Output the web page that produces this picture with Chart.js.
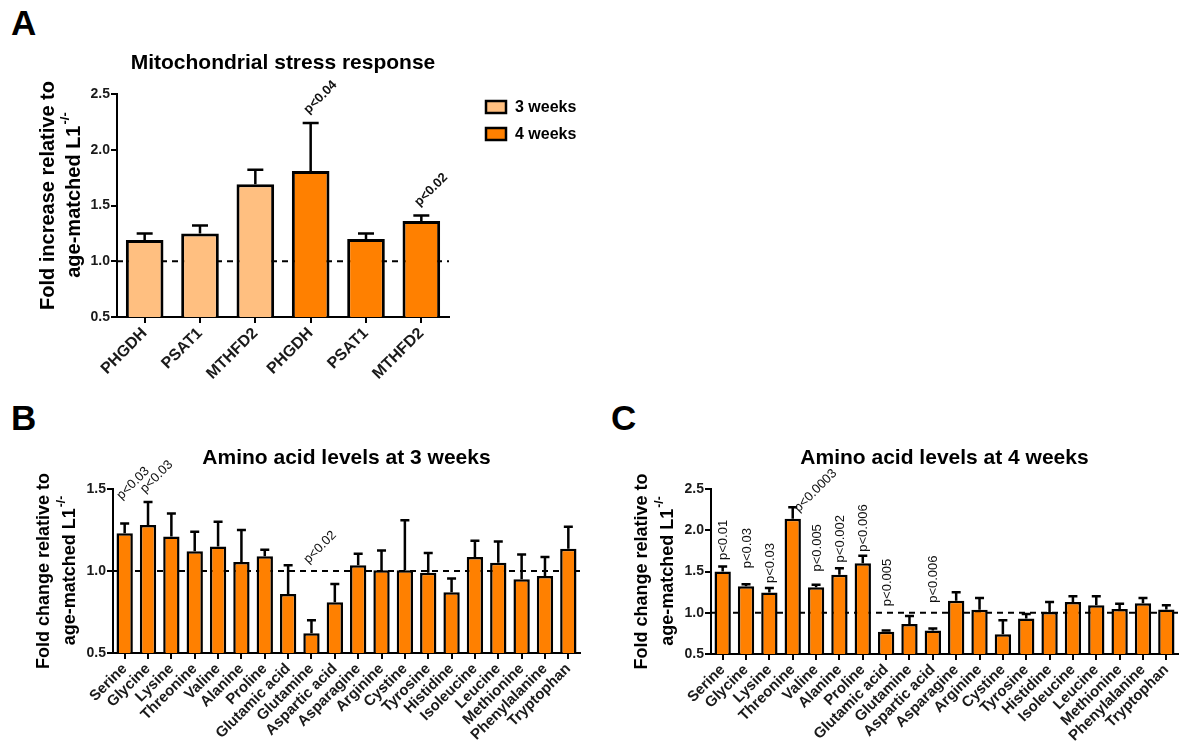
<!DOCTYPE html>
<html>
<head>
<meta charset="utf-8">
<script src="https://cdn.jsdelivr.net/npm/chart.js@4.4.1/dist/chart.umd.min.js"></script>
<style>
    body { margin: 0; background: #fff; width: 1184px; height: 751px; position: relative; overflow: hidden; font-family: "Liberation Sans", Arial, sans-serif; }
    .panel { position: absolute; }
    .letter { position: absolute; font-weight: bold; font-size: 35px; line-height: 1; color: #000; }
</style>
</head>
<body>
<div class="letter" style="left:11px;top:5px">A</div>
<div class="letter" style="left:11px;top:400px">B</div>
<div class="letter" style="left:611px;top:400px">C</div>

<div class="panel" style="left:0;top:0;width:600px;height:390px"><canvas id="chartA"></canvas></div>
<div class="panel" style="left:0;top:390px;width:600px;height:361px"><canvas id="chartB"></canvas></div>
<div class="panel" style="left:600px;top:390px;width:584px;height:361px"><canvas id="chartC"></canvas></div>

<script>
const FONT = "'Liberation Sans', Arial, sans-serif";
Chart.defaults.font.family = FONT;
Chart.defaults.color = '#222';
Chart.defaults.animation = false;

const ORANGE = '#FF8000';
const LIGHT = '#FFBF80';

// panel A - mitochondrial stress response
const geneLabels = ['PHGDH', 'PSAT1', 'MTHFD2', 'PHGDH', 'PSAT1', 'MTHFD2'];
const geneWeeks = [3, 3, 3, 4, 4, 4];
const geneFold = [1.19, 1.25, 1.69, 1.81, 1.20, 1.36];
const geneErr = [1.25, 1.32, 1.82, 2.24, 1.25, 1.41];
const geneTicks = [0.5, 1.0, 1.5, 2.0, 2.5];
const legendLabels = ['3 weeks', '4 weeks'];
const geneP = [
    { i: 3, text: 'p<0.04', v: 2.30, dir: 'diag' },
    { i: 5, text: 'p<0.02', v: 1.47, dir: 'diag' }
];

// panels B / C - amino acids
const aminoLabels = ['Serine', 'Glycine', 'Lysine', 'Threonine', 'Valine', 'Alanine', 'Proline',
    'Glutamic acid', 'Glutamine', 'Aspartic acid', 'Asparagine', 'Arginine', 'Cystine', 'Tyrosine',
    'Histidine', 'Isoleucine', 'Leucine', 'Methionine', 'Phenylalanine', 'Tryptophan'];

const aa3wFold = [1.23, 1.28, 1.21, 1.12, 1.15, 1.055, 1.09, 0.86, 0.62, 0.81,
    1.035, 1.005, 1.005, 0.99, 0.87, 1.085, 1.05, 0.95, 0.97, 1.135];
const aa3wErr = [1.29, 1.42, 1.35, 1.24, 1.30, 1.25, 1.13, 1.035, 0.70, 0.92,
    1.105, 1.125, 1.31, 1.11, 0.955, 1.185, 1.18, 1.10, 1.085, 1.27];
const aa3wTicks = [0.5, 1.0, 1.5];
const aa3wP = [
    { i: 0, text: 'p<0.03', v: 1.42, dir: 'diag' },
    { i: 1, text: 'p<0.03', v: 1.46, dir: 'diag' },
    { i: 8, text: 'p<0.02', v: 1.03, dir: 'diag' }
];

const aa4wFold = [1.50, 1.32, 1.245, 2.14, 1.31, 1.46, 1.60, 0.77, 0.865, 0.785,
    1.145, 1.035, 0.74, 0.93, 1.01, 1.13, 1.09, 1.045, 1.115, 1.04];
const aa4wErr = [1.56, 1.345, 1.30, 2.28, 1.34, 1.54, 1.69, 0.785, 0.96, 0.81,
    1.25, 1.18, 0.91, 0.985, 1.13, 1.20, 1.20, 1.11, 1.18, 1.09];
const aa4wTicks = [0.5, 1.0, 1.5, 2.0, 2.5];
const aa4wP = [
    { i: 0, text: 'p<0.01', v: 1.64, dir: 'up' },
    { i: 1, text: 'p<0.03', v: 1.54, dir: 'up' },
    { i: 2, text: 'p<0.03', v: 1.36, dir: 'up' },
    { i: 3, text: 'p<0.0003', v: 2.19, dir: 'diag' },
    { i: 4, text: 'p<0.005', v: 1.50, dir: 'up' },
    { i: 5, text: 'p<0.002', v: 1.61, dir: 'up' },
    { i: 6, text: 'p<0.006', v: 1.74, dir: 'up' },
    { i: 7, text: 'p<0.005', v: 1.08, dir: 'up' },
    { i: 9, text: 'p<0.006', v: 1.12, dir: 'up' }
];

// dashed reference line at fold = 1
function refLine(value) {
    return {
        id: 'refLine',
        beforeDatasetsDraw(chart) {
            const { ctx, chartArea, scales } = chart;
            const y = scales.y.getPixelForValue(value);
            ctx.save();
            ctx.strokeStyle = '#000';
            ctx.lineWidth = 2;
            ctx.setLineDash([6, 5]);
            ctx.beginPath();
            ctx.moveTo(chartArea.left, y);
            ctx.lineTo(chartArea.right, y);
            ctx.stroke();
            ctx.restore();
        }
    };
}

// upper error bars (SEM)
function errorBars(values, cap) {
    return {
        id: 'errorBars',
        afterDatasetsDraw(chart) {
            const { ctx, scales } = chart;
            const meta = chart.getDatasetMeta(0);
            ctx.save();
            ctx.strokeStyle = '#000';
            ctx.lineWidth = 2.5;
            values.forEach((e, i) => {
                const bar = meta.data[i];
                const top = scales.y.getPixelForValue(e);
                ctx.beginPath();
                ctx.moveTo(bar.x, bar.y);
                ctx.lineTo(bar.x, top);
                ctx.moveTo(bar.x - cap / 2, top);
                ctx.lineTo(bar.x + cap / 2, top);
                ctx.stroke();
            });
            ctx.restore();
        }
    };
}

// p value labels
function pLabels(list, bold, diagDx) {
    return {
        id: 'pLabels',
        afterDraw(chart) {
            const { ctx, scales } = chart;
            const meta = chart.getDatasetMeta(0);
            ctx.save();
            ctx.fillStyle = '#111';
            ctx.font = (bold ? 'bold ' : '') + '13px ' + FONT;
            list.forEach(p => {
                const x = meta.data[p.i].x;
                const y = scales.y.getPixelForValue(p.v);
                ctx.save();
                if (p.dir === 'up') {
                    ctx.translate(x + 1, y);
                    ctx.rotate(-Math.PI / 2);
                    ctx.textBaseline = 'middle';
                } else {
                    ctx.translate(x + diagDx, y);
                    ctx.rotate(-Math.PI / 4);
                    ctx.textBaseline = 'bottom';
                }
                ctx.textAlign = 'left';
                ctx.fillText(p.text, 0, 0);
                ctx.restore();
            });
            ctx.restore();
        }
    };
}

// chart title + two-line y title with superscript
function panelText(title, line1, line2, sup, size, shift) {
    return {
        id: 'panelText',
        afterDraw(chart) {
            const { ctx, chartArea } = chart;
            ctx.save();
            ctx.fillStyle = '#000';
            ctx.textAlign = 'center';
            ctx.textBaseline = 'middle';
            ctx.font = 'bold 21px ' + FONT;
            ctx.fillText(title, (chartArea.left + chartArea.right) / 2, chartArea.top - 31);

            const cy = (chartArea.top + chartArea.bottom) / 2 + shift;
            const big = 'bold ' + size + 'px ' + FONT;
            const small = 'bold ' + Math.round(size * 0.65) + 'px ' + FONT;
            ctx.font = big;
            ctx.save();
            ctx.translate(chartArea.left - 69, cy);
            ctx.rotate(-Math.PI / 2);
            ctx.fillText(line1, 0, 0);
            ctx.restore();

            ctx.save();
            ctx.translate(chartArea.left - 43, cy);
            ctx.rotate(-Math.PI / 2);
            ctx.textAlign = 'left';
            const w1 = ctx.measureText(line2).width;
            ctx.font = small;
            const w2 = ctx.measureText(sup).width;
            const x0 = -(w1 + w2) / 2;
            ctx.font = big;
            ctx.fillText(line2, x0, 0);
            ctx.font = small;
            ctx.fillText(sup, x0 + w1 + 1, -size * 0.45);
            ctx.restore();
            ctx.restore();
        }
    };
}

// legend for panel A
function weekLegend(labels, colors) {
    return {
        id: 'weekLegend',
        afterDraw(chart) {
            const { ctx, chartArea } = chart;
            ctx.save();
            labels.forEach((t, k) => {
                const bx = chartArea.right + 37;
                const by = chartArea.top + 7 + k * 27;
                ctx.fillStyle = colors[k];
                ctx.fillRect(bx, by, 20, 12);
                ctx.strokeStyle = '#000';
                ctx.lineWidth = 2.5;
                ctx.strokeRect(bx, by, 20, 12);
                ctx.fillStyle = '#000';
                ctx.font = 'bold 16px ' + FONT;
                ctx.textBaseline = 'middle';
                ctx.fillText(t, bx + 29, by + 7);
            });
            ctx.restore();
        }
    };
}

function createFoldChart(canvas, cfg) {
    return new Chart(canvas, {
        type: 'bar',
        data: {
            labels: cfg.labels,
            datasets: [{
                data: cfg.values,
                backgroundColor: cfg.colors,
                borderColor: '#000',
                borderWidth: cfg.border,
                borderSkipped: false,
                barPercentage: cfg.barPct,
                categoryPercentage: 1
            }]
        },
        options: {
            responsive: true, maintainAspectRatio: false,
            layout: { padding: cfg.padding },
            plugins: { legend: { display: false }, tooltip: { enabled: false } },
            scales: {
                x: {
                    afterFit: s => { s.height = cfg.xHeight; },
                    grid: { offset: false, drawOnChartArea: false, color: '#000', lineWidth: 2, tickLength: 6 },
                    border: { color: '#000', width: 2 },
                    ticks: {
                        autoSkip: false, minRotation: 45, maxRotation: 45, padding: 1,
                        color: '#1a1a1a', font: { size: cfg.xFont, weight: 'bold' }
                    }
                },
                y: {
                    min: cfg.ticks[0], max: cfg.ticks[cfg.ticks.length - 1],
                    afterFit: s => { s.width = 40; },
                    afterBuildTicks: s => { s.ticks = cfg.ticks.map(v => ({ value: v })); },
                    grid: { drawOnChartArea: false, color: '#000', lineWidth: 2, tickLength: 6 },
                    border: { color: '#000', width: 2 },
                    ticks: {
                        padding: 1, color: '#1a1a1a', font: { size: 14, weight: 'bold' },
                        callback: v => Number(v).toFixed(1)
                    }
                }
            }
        },
        plugins: cfg.plugins
    });
}

createFoldChart(document.getElementById('chartA'), {
    labels: geneLabels,
    values: geneFold,
    colors: geneWeeks.map(w => w === 3 ? LIGHT : ORANGE),
    border: 3, barPct: 0.68, xFont: 16, ticks: geneTicks, xHeight: 73,
    padding: { left: 77, top: 94, right: 151, bottom: 0 },
    plugins: [refLine(1.0), errorBars(geneErr, 16), pLabels(geneP, true, 0),
        panelText('Mitochondrial stress response', 'Fold increase relative to', 'age-matched L1', '-/-', 20, -10),
        weekLegend(legendLabels, [LIGHT, ORANGE])]
});

createFoldChart(document.getElementById('chartB'), {
    labels: aminoLabels,
    values: aa3wFold,
    colors: ORANGE,
    border: 2.5, barPct: 0.7, xFont: 15, ticks: aa3wTicks, xHeight: 98,
    padding: { left: 73, top: 99, right: 20, bottom: 0 },
    plugins: [refLine(1.0), errorBars(aa3wErr, 9), pLabels(aa3wP, false, -1),
        panelText('Amino acid levels at 3 weeks', 'Fold change relative to', 'age-matched L1', '-/-', 18, 0)]
});

createFoldChart(document.getElementById('chartC'), {
    labels: aminoLabels,
    values: aa4wFold,
    colors: ORANGE,
    border: 2.5, barPct: 0.7, xFont: 15, ticks: aa4wTicks, xHeight: 97,
    padding: { left: 71, top: 99, right: 6, bottom: 0 },
    plugins: [refLine(1.0), errorBars(aa4wErr, 9), pLabels(aa4wP, false, 8),
        panelText('Amino acid levels at 4 weeks', 'Fold change relative to', 'age-matched L1', '-/-', 18, 0)]
});
</script>
</body>
</html>
